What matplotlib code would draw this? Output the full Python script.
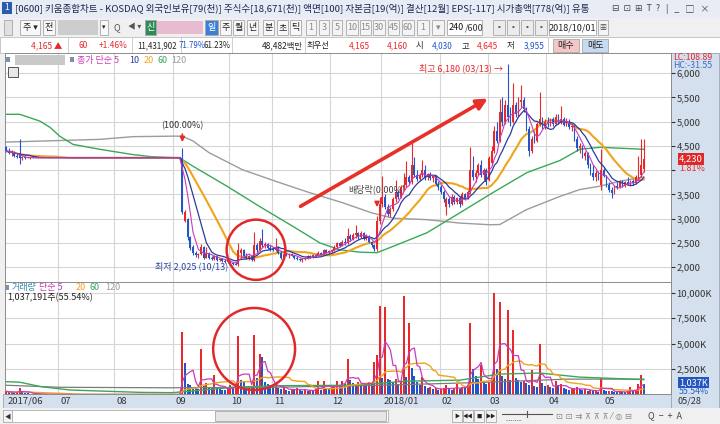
import numpy as np
import pandas as pd
import matplotlib
matplotlib.use('Agg')
import matplotlib.pyplot as plt
from matplotlib.patches import Rectangle, Ellipse
from matplotlib.transforms import blended_transform_factory

plt.rcParams['font.family'] = ['Noto Sans CJK KR', 'DejaVu Sans']

# ---------------- data ----------------
# daily candles, 240 trading days, 2017/06 .. 2018/05/28
opens = [4480, 4400, 4350, 4380, 4300, 4350, 4250, 4280,
         4260, 4250, 4260, 4255, 4260, 4250, 4255] + [4255] * 51 + [
    # Sep / Oct
    4250, 2950, 3000, 2620, 2420, 2300, 2250, 2270, 2420, 2200, 2300, 2200, 2180, 2230, 2150, 2180, 2130,
    2110, 2120, 2080, 2070, 2060, 2300, 2350, 2230, 2200, 2240, 2150, 2450, 2350, 2550, 2460, 2480, 2400,
    # Nov
    2370, 2360, 2420, 2300, 2200, 2270, 2250, 2280, 2240, 2200, 2170, 2140, 2160, 2200, 2230, 2210, 2250,
    2240, 2300, 2260, 2350, 2300,
    # Dec
    2340, 2360, 2420, 2500, 2440, 2530, 2490, 2650, 2580, 2660, 2700, 2620, 2700, 2580, 2650, 2520, 2450,
    2370, 2950,
    # Jan
    3300, 3450, 3250, 3100, 3200, 3400, 3550, 3450, 3650, 3700, 3850, 3750, 4100, 3900, 3820, 3900, 4000,
    3850, 3920, 3830, 3870, 3720,
    # Feb
    3650, 3550, 3250, 3400, 3300, 3450, 3350, 3420, 3300, 3500, 3420, 3550, 4000, 3850, 3950, 4100, 3900, 4000,
    # Mar
    3800, 4150, 4400, 4800, 4600, 5200, 5000, 5350, 5100, 5000, 5350, 5150, 5400, 5450, 5250, 4850, 4400,
    4650, 4600, 4950, 5050, 4900,
    # Apr
    5000, 4950, 5050, 4950, 5100, 4980, 5050, 4920, 5000, 4880, 4900, 4650, 4450, 4500, 4300, 4350, 4100,
    3950, 3850, 3950, 3700,
    # May
    4000, 3880, 3700, 3600, 3520, 3680, 3650, 3750, 3680, 3760, 3720, 3780, 3730, 3850, 3900, 4030]

highs = [4500, 4450, 4420, 4400, 4350, 4640, 4300, 4300,
         4280, 4270, 4275, 4265, 4270, 4262, 4258] + [4255] * 51 + [
    4460, 3180, 3010, 2640, 2460, 2340, 2290, 2480, 2430, 2420, 2310, 2240, 2260, 2240, 2200, 2190, 2160,
    2150, 2140, 2110, 2100, 2500, 2400, 2370, 2300, 2260, 2250, 2720, 2500, 2600, 2780, 2520, 2500, 2450,
    2420, 2600, 2440, 2330, 2300, 2300, 2290, 2300, 2260, 2230, 2200, 2180, 2220, 2250, 2260, 2270, 2280,
    2330, 2310, 2380, 2370, 2360,
    2380, 2450, 2520, 2520, 2560, 2600, 2810, 2680, 2700, 2870, 2720, 2750, 2720, 2680, 2660, 2540, 2480,
    3050, 3450,
    3870, 3500, 3300, 3250, 3450, 3800, 3600, 3700, 3950, 4180, 3900, 4570, 4280, 4000, 3950, 4200, 4100,
    3950, 3960, 3900, 3900, 3780,
    3700, 3600, 3450, 3450, 3500, 3480, 3450, 3460, 3550, 3520, 3600, 4470, 4300, 4000, 4150, 4200, 4050, 4050,
    4300, 4500, 4900, 5000, 5460, 5500, 5450, 6180, 5300, 5800, 5400, 5500, 5750, 5500, 5300, 4900, 4700,
    4800, 5000, 5600, 5100, 5050,
    5100, 5080, 5100, 5150, 5150, 5320, 5100, 5080, 5050, 4950, 4920, 4700, 4550, 4520, 4400, 4380, 4150,
    4100, 4000, 3980, 4430,
    4050, 3900, 3750, 3650, 3700, 3750, 3800, 3800, 3780, 3850, 3800, 3820, 3900, 4300, 4650, 4645]

lows = [4380, 4330, 4300, 4280, 4250, 4130, 4200, 4220,
        4240, 4235, 4245, 4245, 4248, 4245, 4252] + [4255] * 51 + [
    3100, 2930, 2560, 2360, 2260, 2220, 2200, 2250, 2180, 2190, 2180, 2150, 2150, 2130, 2120, 2110, 2090,
    2080, 2060, 2040, 2040, 2025, 2200, 2200, 2170, 2150, 2120, 2130, 2300, 2330, 2420, 2400, 2380, 2340,
    2330, 2340, 2280, 2180, 2180, 2230, 2200, 2230, 2180, 2150, 2120, 2100, 2140, 2180, 2190, 2200, 2220,
    2230, 2250, 2250, 2290, 2280,
    2300, 2340, 2380, 2420, 2430, 2460, 2470, 2540, 2560, 2600, 2580, 2600, 2560, 2560, 2500, 2420, 2330,
    2330, 2900,
    3250, 3200, 3050, 3040, 3150, 3350, 3400, 3420, 3600, 3650, 3700, 3720, 3850, 3780, 3780, 3850, 3800,
    3800, 3800, 3750, 3700, 3600,
    3500, 3350, 3080, 3250, 3280, 3300, 3300, 3250, 3280, 3380, 3400, 3500, 3800, 3750, 3900, 3850, 3800, 3700,
    3780, 4100, 4350, 4550, 4580, 4900, 4950, 5000, 4900, 4980, 5100, 5100, 5300, 5200, 4800, 4300, 4350,
    4550, 4580, 4900, 4850, 4850,
    4880, 4900, 4900, 4920, 4950, 4950, 4900, 4900, 4850, 4800, 4600, 4400, 4350, 4250, 4200, 4050, 3900,
    3800, 3780, 3800, 3600,
    3850, 3650, 3550, 3430, 3500, 3620, 3630, 3650, 3660, 3700, 3680, 3700, 3720, 3800, 3850, 3955]

closes = [4400, 4350, 4380, 4300, 4280, 4250, 4280, 4250,
          4250, 4260, 4250, 4258, 4252, 4256, 4255] + [4255] * 51 + [
    3130, 3140, 2620, 2400, 2300, 2250, 2270, 2420, 2200, 2300, 2200, 2180, 2230, 2150, 2180, 2130, 2110,
    2120, 2080, 2070, 2050, 2350, 2350, 2230, 2200, 2240, 2150, 2450, 2350, 2550, 2460, 2480, 2400, 2370,
    2360, 2420, 2300, 2200, 2270, 2250, 2280, 2240, 2200, 2170, 2140, 2160, 2200, 2230, 2210, 2250, 2240,
    2300, 2260, 2350, 2300, 2340,
    2360, 2420, 2500, 2440, 2530, 2490, 2650, 2580, 2660, 2700, 2620, 2700, 2580, 2650, 2520, 2450, 2370,
    2950, 3300,
    3450, 3250, 3100, 3200, 3400, 3550, 3450, 3650, 3700, 3850, 3750, 4100, 3900, 3820, 3900, 4000, 3850,
    3920, 3830, 3870, 3720, 3650,
    3550, 3400, 3400, 3300, 3450, 3350, 3420, 3300, 3500, 3420, 3550, 4000, 3850, 3950, 4100, 3900, 4000, 3750,
    4250, 4400, 4800, 4600, 5200, 5000, 5350, 5100, 5000, 5350, 5150, 5400, 5450, 5250, 4850, 4400, 4650,
    4600, 4950, 5050, 4900, 5000,
    4950, 5050, 4950, 5100, 4980, 5050, 4920, 5000, 4880, 4900, 4650, 4450, 4500, 4300, 4350, 4100, 3950,
    3850, 3950, 3850, 4000,
    3880, 3700, 3600, 3520, 3680, 3650, 3750, 3680, 3760, 3720, 3780, 3730, 3850, 3900, 4100, 4230]

# volume in thousand shares
volumes = [300, 200, 250, 150, 200, 600, 200, 150, 100, 80, 60, 50, 40, 30, 20] + [0] * 51 + [
    6170, 3080, 1000, 950, 700, 600, 550, 4460, 800, 1100, 700, 600, 1900, 600, 500, 450, 400, 700,
    900, 700, 800, 5770, 1400, 1300, 700, 800, 600, 5800, 1600, 3970, 3650, 1200, 1000, 900,
    800, 1100, 600, 500, 700, 400, 350, 500, 450, 600, 400, 350, 500, 300, 400, 350, 500, 1300, 450, 1300,
    600, 500,
    700, 800, 1300, 900, 1300, 1000, 3500, 1400, 1100, 900, 1200, 1000, 1100, 900, 1200, 1000, 3200, 3870, 8700,
    1600, 8600, 1500, 1400, 1200, 1500, 1000, 1300, 9700, 1700, 7000, 2600, 1800, 1200, 900, 1700, 800,
    600, 700, 500, 600, 400,
    500, 600, 900, 500, 400, 600, 1000, 500, 700, 600, 900, 7000, 2500, 1800, 1500, 2900, 1200, 1000,
    1200, 1500, 10000, 2500, 9100, 1800, 1500, 8300, 1400, 6300, 1600, 1400, 1200, 1300, 1100, 900, 2400,
    800, 700, 4950, 1100, 800,
    900, 700, 600, 1300, 800, 1000, 600, 500, 400, 500, 600, 700, 500, 400, 500, 350, 400, 300, 350, 250, 1600,
    400, 300, 350, 300, 250, 200, 300, 250, 200, 300, 700, 300, 400, 1000, 1900, 1037]

# long moving averages (day index, value)
ma60_idx = [0, 5, 12.6, 16.4, 20, 25, 35, 47.5, 54, 65, 70, 82.7, 95, 107.5, 117.6, 125, 132.6, 139,
            145, 157.7, 170, 182.5, 195.2, 207.6, 215, 222.6, 239]
ma60_val = [5150, 5150, 5010, 4880, 4700, 4530, 4430, 4320, 4280, 4250, 4080, 3670, 3250, 2840, 2500,
            2360, 2310, 2300, 2430, 2710, 3120, 3540, 3950, 4200, 4430, 4470, 4430]
ma120_idx = [0, 35, 47.5, 62.5, 66, 70, 76, 88.5, 101, 113.5, 126, 137, 145, 157.7, 170, 181.4, 185,
             195, 207.6, 215, 222.6, 230, 239]
ma120_val = [4578, 4634, 4690, 4700, 4700, 4600, 4360, 4010, 3770, 3540, 3330, 3120, 3010, 2980, 2910,
             2875, 2880, 3186, 3460, 3600, 3670, 3770, 3860]
vma60_idx = [0, 5, 13, 24, 50, 62, 66, 85, 100, 130, 150, 170, 185, 200, 215, 239]
vma60_val = [1250, 1200, 760, 430, 200, 170, 250, 700, 850, 900, 1300, 1400, 2000, 2100, 1700, 1450]
vma120_idx = [0, 20, 62, 66, 100, 141, 181, 210, 239]
vma120_val = [900, 700, 650, 660, 700, 900, 1200, 1500, 1500]

month_labels = ['2017/06', '07', '08', '09', '10', '11', '12', '2018/01', '02', '03', '04', '05']
month_start = [-0.5, 19.5, 40.5, 62.5, 83.5, 99.5, 121.5, 140.5, 162.5, 180.5, 202.5, 223.5]

RED = '#e8282a'
BLUE = '#2256c8'
C5, C10, C20, C60, C120 = '#c83cb8', '#2c3c9c', '#f0a41c', '#3aa858', '#9c9c9c'
PANEL = '#d4e0ee'
GRID = '#d6d6d6'

W, H = 720, 424


def box(x0, y0, x1, y1):
    return [x0 / W, 1 - y1 / H, (x1 - x0) / W, (y1 - y0) / H]


fig = plt.figure(figsize=(7.2, 4.24), dpi=100)
fig.patch.set_facecolor('#f0f0f0')

# ---------------- window chrome (pixel coords) ----------------
ui = fig.add_axes([0, 0, 1, 1], zorder=0)
ui.set_xlim(0, W)
ui.set_ylim(H, 0)
ui.axis('off')


def rect(x0, y0, x1, y1, fc, ec='none', lw=0.6):
    ui.add_patch(Rectangle((x0, y0), x1 - x0, y1 - y0, fc=fc, ec=ec, lw=lw))


def btn(x0, x1, label, fc='#f8f8f8', tc='#222222', y0=20, y1=35, fs=6.5):
    rect(x0, y0, x1, y1, fc, '#a8a8a8')
    ui.text((x0 + x1) / 2, (y0 + y1) / 2, label, ha='center', va='center', fontsize=fs, color=tc)


rect(0, 0, W, 18, '#e8edf5')
rect(2, 2, 12, 14, '#2a5cae')
ui.text(7, 8, '1', ha='center', va='center', fontsize=6, color='white')
ui.text(15, 8.5, '[0600] 키움종합차트 - KOSDAQ 외국인보유[79(천)] 주식수[18,671(천)] 액면[100] '
        '자본금[19(억)] 결산[12월] EPS[-117] 시가총액[778(억)] 유통',
        va='center', fontsize=6.9, color='#1c2550')
ui.text(612, 8.5, '⊟  ⊡  ⊞  T  ?', va='center', fontsize=6.5, color='#445')
ui.text(666, 8.5, '|   _   □   ×', va='center', fontsize=6.5, color='#445')

# toolbar
rect(0, 18, W, 37, '#f0f0f0')
btn(4, 12, '', '#e0e0e0')
btn(20, 40, '주 ▾')
btn(43, 55, '전')
rect(58, 20, 98, 35, '#cdcdcd')
btn(100, 108, '▾', fs=5)
ui.text(113, 27.5, 'Q', va='center', fontsize=6.5, color='#555')
ui.text(128, 27.5, '◀ ▾', va='center', fontsize=5.5, color='#555')
btn(145, 156, '신', '#2e8b57', 'white')
rect(157, 21, 203, 34, '#e8bcd0')
btn(205, 218, '일', '#3d7fd6', 'white')
for x0, lab in zip([220, 233, 247, 263, 277, 290], ['주', '월', '년', '분', '초', '틱']):
    btn(x0, x0 + 11, lab)
for x0, x1, lab in zip([306, 319, 332, 346, 360, 373, 388, 402, 417, 432],
                       [316, 329, 342, 358, 371, 385, 399, 414, 429, 444],
                       ['1', '3', '5', '10', '15', '30', '45', '60', '1', '▾']):
    btn(x0, x1, lab, '#f4f4f4', '#8a8a8a')
rect(447, 20, 482, 35, 'white', '#a8a8a8')
ui.text(449, 27.5, '240', va='center', fontsize=6.5, color='#111')
ui.text(465, 27.5, '/600', va='center', fontsize=6.5, color='#333')
for x0 in [493, 507, 521, 535]:
    btn(x0, x0 + 12, '▪', '#ececec', '#555', fs=5)
btn(549, 596, '2018/10/01', 'white')
btn(598, 608, '▦', '#f4f4f4', '#555', fs=5)

# info line
rect(0, 37, W, 53, 'white', '#c0c0c0')
for xs in [68, 132, 181, 232, 305, 548]:
    ui.plot([xs, xs], [37, 53], color='#c8c8c8', lw=0.6)
info = [(62, '4,165 ▲', RED, 6.0), (88, '60', RED, 6.0), (128, '+1.46%', RED, 6.0),
        (177, '11,431,902', '#222', 5.7), (205, '71.79%', BLUE, 5.7), (231, '61.23%', '#222', 5.7),
        (303, '48,482백만', '#222', 6.0), (329, '최우선', '#222', 6.0), (370, '4,165', RED, 6.0),
        (408, '4,160', RED, 6.0), (423, '시', '#222', 6.0), (453, '4,030', BLUE, 6.0),
        (469, '고', '#222', 6.0), (498, '4,645', RED, 6.0), (514, '저', '#222', 6.0),
        (545, '3,955', BLUE, 6.0)]
for xr, s, col, fs in info:
    ui.text(xr, 45.5, s, ha='right', va='center', fontsize=fs, color=col)
btn(553, 579, '매수', '#f4c6c6', '#222', y0=39, y1=52)
btn(582, 608, '매도', '#c6daf2', '#222', y0=39, y1=52)

# right scale panel, date band, scroll bar
rect(671, 53, 719, 408, PANEL, '#9aa8b8')
rect(3, 394.4, 671, 408, PANEL, '#9aa8b8')
ui.text(677, 401, '05/28', va='center', fontsize=6.5, color='#333')
rect(0, 408, W, 424, '#f0f0f0')
btn(3, 12, '◀', '#f4f4f4', '#333', y0=410, y1=422, fs=4.5)
rect(12, 410, 388, 422, 'white', '#b0b0b0')
rect(215, 411, 386, 421, '#e6e6e6', '#a8a8a8')
for x0, lab in zip([452, 463, 474, 486], ['▶', '◀◀', '■', '▶▶']):
    btn(x0, x0 + 10, lab, '#f4f4f4', '#222', y0=410, y1=422, fs=3.8)
ui.plot([502, 552], [414, 414], color='#555', lw=0.8)
ui.plot([527, 527], [411, 417], color='#555', lw=0.8)
ui.text(505, 419, '.........', va='center', fontsize=5, color='#555')
ui.text(556, 416, '⊡ ⊡ ⇉ ⊼ ⊼ ⊼ ⁄ ◎ ⊟', va='center', fontsize=6, color='#888', family='DejaVu Sans')
ui.text(648, 416, 'Q  −  +  A', va='center', fontsize=6.5, color='#444')

# ---------------- price panel ----------------
x = np.arange(len(closes))
o = np.array(opens, float)
hi = np.array(highs, float)
lo = np.array(lows, float)
c = np.array(closes, float)
cols = np.where(c > o, RED, BLUE)

ax = fig.add_axes(box(5, 53, 671, 282), zorder=2)
ax.set_facecolor('white')
ax.set_xlim(-0.5, 249.2)
ax.set_ylim(1696, 6413)
for g in month_start[1:]:
    ax.axvline(g, color=GRID, lw=0.8, zorder=0)
ax.set_yticks(np.arange(2000, 6001, 500))
ax.grid(axis='y', color=GRID, lw=0.8, zorder=0)
ax.set_axisbelow(True)

close_s = pd.Series(c)
ax.plot(ma120_idx, ma120_val, color=C120, lw=1.0, zorder=2)
ax.plot(ma60_idx, ma60_val, color=C60, lw=1.0, zorder=2)
ax.plot(x, close_s.rolling(20, min_periods=1).mean(), color=C20, lw=1.5, zorder=2)
ax.vlines(x, lo, hi, colors=cols, lw=0.8, zorder=3)
ax.bar(x, np.maximum(np.abs(c - o), 14), bottom=np.minimum(o, c), width=0.7, color=cols, lw=0, zorder=3)
ax.plot(x, close_s.rolling(10, min_periods=1).mean(), color=C10, lw=0.9, zorder=4)
ax.plot(x, close_s.rolling(5, min_periods=1).mean(), color=C5, lw=0.8, zorder=4)

ax.yaxis.tick_right()
# the 4,000 label sits under the current-price box on the screenshot
ax.set_yticklabels(['' if v == 4000 else f'{v:,}' for v in range(2000, 6001, 500)])
ax.tick_params(axis='y', direction='out', length=3, pad=1, labelsize=6.8, colors='#333333')
ax.tick_params(axis='x', bottom=False, labelbottom=False)
for sp in ax.spines.values():
    sp.set_color('#8c8c8c')
    sp.set_linewidth(0.7)

# overlay in pixel coords for legends and scale-panel labels
ui2 = fig.add_axes([0, 0, 1, 1], zorder=5)
ui2.set_xlim(0, W)
ui2.set_ylim(H, 0)
ui2.axis('off')
ui2.add_patch(Rectangle((6, 57), 4, 5, fc='#8090a8'))
ui2.add_patch(Rectangle((15, 55), 50, 10, fc='#c9c9c9'))
ui2.add_patch(Rectangle((70, 57), 4, 5, fc='#8090a8'))
ui2.add_patch(Rectangle((8, 67), 10, 10, fc='#e8e8e8', ec='#555555', lw=0.7))
for px, s, col in [(77, '종가 단순 5', C5), (129, '10', C10), (144, '20', C20), (158, '60', C60), (171, '120', C120)]:
    ui2.text(px, 60.5, s, color=col, fontsize=6.5, va='center')
ui2.text(673, 58, 'LC:108.89', color=RED, fontsize=6.3, va='center')
ui2.text(673, 65.5, 'HC:-31.55', color='#3a6cc8', fontsize=6.3, va='center')

# annotations
ax.text(66, 4924, '(100.00%)', ha='center', va='center', fontsize=6.5, color='#333333')
ax.annotate('', xy=(66, 4520), xytext=(66, 4800),
            arrowprops=dict(arrowstyle='-|>', color=RED, lw=1.2, mutation_scale=7))
ax.text(83.2, 2020, '최저 2,025 (10/13)', ha='right', va='center', fontsize=6.5, color='#2a44a0')
ax.text(139, 3600, '배당락(0.00%)', ha='center', va='center', fontsize=6.5, color='#444444')
ax.annotate('', xy=(139, 3180), xytext=(139, 3400),
            arrowprops=dict(arrowstyle='-|>', color=RED, lw=1.2, mutation_scale=7))
ax.text(186.2, 6100, '최고 6,180 (03/13) →', ha='right', va='center', fontsize=6.5, color=RED)
ax.annotate('', xy=(181.4, 5503), xytext=(109.4, 3227),
            arrowprops=dict(arrowstyle='-|>', color='#e63028', lw=2.6, mutation_scale=16))
ax.add_patch(Ellipse((93.6, 2360), 22, 1240, fill=False, ec='#e02a2a', lw=1.8, zorder=6))

last = closes[-1]
tp = blended_transform_factory(ax.transAxes, ax.transData)
ax.text(1.012, last, f'{last:,}', transform=tp,
        ha='left', va='center', fontsize=6.8, color='white', clip_on=False, zorder=7,
        bbox=dict(fc='#e02828', ec='none', boxstyle='square,pad=0.15'))
ax.text(1.012, last - 200, '1.81%', transform=tp,
        ha='left', va='center', fontsize=6.5, color=RED, clip_on=False, zorder=7)

# ---------------- volume panel ----------------
v = np.array(volumes, float)
vcols = [RED] + [RED if v[i] > v[i - 1] else BLUE for i in range(1, len(v))]

axv = fig.add_axes(box(5, 282, 671, 394.4), zorder=2)
axv.set_facecolor('white')
axv.set_xlim(-0.5, 249.2)
axv.set_ylim(0, 11050)
for g in month_start[1:]:
    axv.axvline(g, color=GRID, lw=0.8, zorder=0)
axv.set_yticks([2500, 5000, 7500, 10000])
axv.set_yticklabels(['2,500K', '5,000K', '7,500K', '10,000K'])
axv.grid(axis='y', color=GRID, lw=0.8, zorder=0)
axv.bar(x, v, width=0.75, color=vcols, lw=0, zorder=3)
vol_s = pd.Series(v)
axv.plot(vma120_idx, vma120_val, color='#7c7c7c', lw=0.9, zorder=4)
axv.plot(vma60_idx, vma60_val, color=C60, lw=1.0, zorder=4)
axv.plot(x, vol_s.rolling(20, min_periods=1).mean(), color=C20, lw=1.0, zorder=4)
axv.plot(x, vol_s.rolling(5, min_periods=1).mean(), color=C5, lw=0.9, zorder=4)
axv.add_patch(Ellipse((92.9, 4464), 30.7, 8063, fill=False, ec='#e02a2a', lw=1.8, zorder=6))

axv.yaxis.tick_right()
axv.tick_params(axis='y', direction='out', length=3, pad=1, labelsize=6.8, colors='#333333')
axv.tick_params(axis='x', bottom=False, labelbottom=False)
for sp in axv.spines.values():
    sp.set_color('#8c8c8c')
    sp.set_linewidth(0.7)

tb = blended_transform_factory(axv.transData, axv.transAxes)
for g, lab in zip(month_start, month_labels):
    axv.text(g + 0.8, -0.06, lab, transform=tb, ha='left', va='center', fontsize=6.8,
             color='#333333', clip_on=False)

tv = blended_transform_factory(axv.transAxes, axv.transData)
axv.text(1.012, volumes[-1] + 150, '1,037K', transform=tv, ha='left', va='center', fontsize=6.6,
         color='white', clip_on=False, zorder=7,
         bbox=dict(fc='#2456c0', ec='none', boxstyle='square,pad=0.12'))
axv.text(1.012, volumes[-1] - 750, '55.54%', transform=tv, ha='left', va='center', fontsize=6.3,
         color='#2a5cc8', clip_on=False, zorder=7)

ui2.add_patch(Rectangle((5, 285), 4, 5, fc='#8090a8'))
for px, s, col in [(12, '거래량', '#3a8ab4'), (39, '단순 5', C5), (76, '20', C20), (90, '60', C60), (105, '120', C120)]:
    ui2.text(px, 287.5, s, color=col, fontsize=6.5, va='center')
ui2.text(7, 297.5, '1,037,191주(55.54%)', color='#222222', fontsize=6.5, va='center')

plt.savefig('out.png', dpi=100, facecolor=fig.get_facecolor())
